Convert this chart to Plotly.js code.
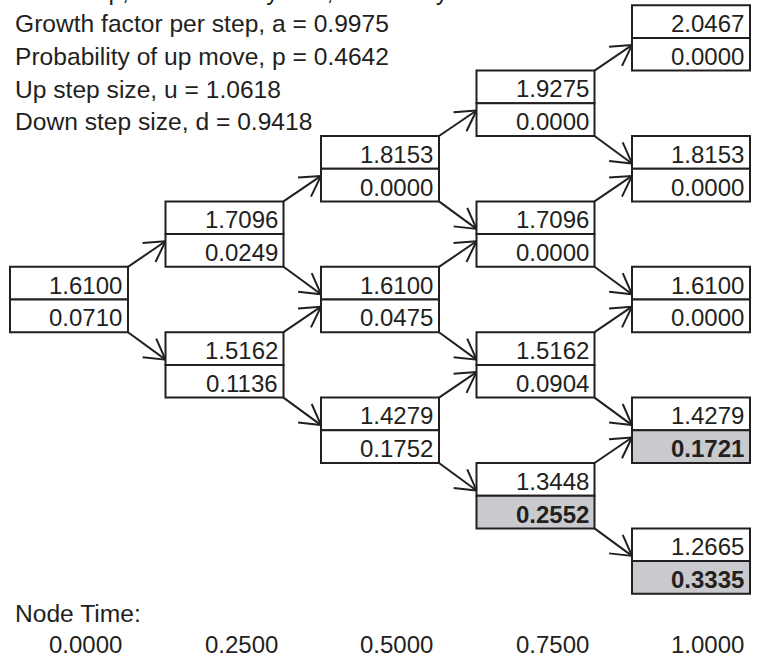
<!DOCTYPE html>
<html><head><meta charset="utf-8">
<script src="https://cdn.plot.ly/plotly-3.0.1.min.js"></script>
<style>html,body{margin:0;padding:0;background:#fff;} #chart{width:758px;height:665px;}</style>
</head><body><div id="chart"></div>
<script>
// ---- data ----
const nodeTimes = [0, 0.25, 0.5, 0.75, 1.0];
const timeLabels = ['0.0000', '0.2500', '0.5000', '0.7500', '1.0000'];
const nodeStep = [0, 1, 1, 2, 2, 2, 3, 3, 3, 3, 4, 4, 4, 4, 4];
const nodeUps  = [0, 1, 0, 2, 1, 0, 3, 2, 1, 0, 4, 3, 2, 1, 0];
const assetPrice  = [1.6100, 1.7096, 1.5162, 1.8153, 1.6100, 1.4279, 1.9275, 1.7096, 1.5162, 1.3448, 2.0467, 1.8153, 1.6100, 1.4279, 1.2665];
const optionValue = [0.0710, 0.0249, 0.1136, 0.0000, 0.0475, 0.1752, 0.0000, 0.0000, 0.0904, 0.2552, 0.0000, 0.0000, 0.0000, 0.1721, 0.3335];
const exercised   = [false, false, false, false, false, false, false, false, false, true, false, false, false, true, true];
const paramLines = [
  'Time step, dt = 0.2500 years, 91.25 days',
  'Growth factor per step, a = 0.9975',
  'Probability of up move, p = 0.4642',
  'Up step size, u = 1.0618',
  'Down step size, d = 0.9418'
];
const nodeTimeTitle = 'Node Time:';

// ---- layout geometry ----
const W = 758, H = 665;
const x0px = 69, spanPx = 622;      // pixel of t=0 and pixels per unit time
const y0px = 299.5, levelPx = 65.4; // pixel of level 0 and pixels per level
const halfW = 59 / spanPx;          // half box width in time units
const INK = '#231f20';
const GREY = '#c9cacd';
const FONT = 'Liberation Sans, Arial, Helvetica, sans-serif';
const FS = 24;
const FS_PARAM = 24.6;
const BASE_K = 8.3; // baseline minus annotation center (px)
const HEAD_LEN = 23, HEAD_ANG = 30 * Math.PI / 180;

function paperY(px) { return 1 - px / H; }
function paperX(px) { return px / W; }
function levelOf(i) { return 2 * nodeUps[i] - nodeStep[i]; }
function findNode(step, ups) {
  for (let k = 0; k < nodeStep.length; k++) if (nodeStep[k] === step && nodeUps[k] === ups) return k;
  return -1;
}
function toPx(t, lev) { return [x0px + spanPx * t, y0px - levelPx * lev]; }
function toData(p) { return [(p[0] - x0px) / spanPx, (y0px - p[1]) / levelPx]; }

const shapes = [];
const annotations = [];

for (let i = 0; i < nodeStep.length; i++) {
  const t = nodeTimes[nodeStep[i]];
  const lev = levelOf(i);
  shapes.push({type: 'rect', xref: 'x', yref: 'y', x0: t - halfW, x1: t + halfW, y0: lev, y1: lev + 0.5,
    fillcolor: '#ffffff', line: {color: INK, width: 2}, layer: 'above'});
  shapes.push({type: 'rect', xref: 'x', yref: 'y', x0: t - halfW, x1: t + halfW, y0: lev - 0.5, y1: lev,
    fillcolor: exercised[i] ? GREY : '#ffffff', line: {color: INK, width: 2}, layer: 'above'});
  annotations.push({xref: 'x', yref: 'y', x: t + halfW, y: lev + 0.25, xanchor: 'right', yanchor: 'middle',
    xshift: -4, yshift: -2, showarrow: false, text: assetPrice[i].toFixed(4),
    font: {family: FONT, size: FS, color: INK}});
  const ov = optionValue[i].toFixed(4);
  annotations.push({xref: 'x', yref: 'y', x: t + halfW, y: lev - 0.25, xanchor: 'right', yanchor: 'middle',
    xshift: -4, yshift: -2, showarrow: false, text: exercised[i] ? '<b>' + ov + '</b>' : ov,
    font: {family: FONT, size: FS, color: INK}});
}

// arrows between nodes: shaft + open V head as line segments
const arrowX = [], arrowY = [];
function addArrow(tailT, tailLev, tipT, tipLev) {
  const a = toPx(tailT, tailLev), b = toPx(tipT, tipLev);
  const dx = a[0] - b[0], dy = a[1] - b[1];
  const len = Math.hypot(dx, dy);
  const ux = dx / len, uy = dy / len;
  const arm = s => {
    const c = Math.cos(s * HEAD_ANG), sn = Math.sin(s * HEAD_ANG);
    return [b[0] + HEAD_LEN * (ux * c - uy * sn), b[1] + HEAD_LEN * (ux * sn + uy * c)];
  };
  const pts = [a, b, null, arm(1), b, arm(-1), null];
  pts.forEach(p => {
    if (p === null) { arrowX.push(null); arrowY.push(null); }
    else { const d = toData(p); arrowX.push(d[0]); arrowY.push(d[1]); }
  });
}
for (let i = 0; i < nodeStep.length; i++) {
  const s = nodeStep[i];
  if (s >= nodeTimes.length - 1) continue;
  const t = nodeTimes[s], tn = nodeTimes[s + 1];
  const lev = levelOf(i);
  const up = findNode(s + 1, nodeUps[i] + 1);
  const dn = findNode(s + 1, nodeUps[i]);
  if (up >= 0) addArrow(t + halfW, lev + 0.5, tn - halfW, levelOf(up) - 0.11);
  if (dn >= 0) addArrow(t + halfW, lev - 0.5, tn - halfW, levelOf(dn) + 0.08);
}

// parameter text lines (baselines in px)
const paramBase = [-0.6, 32.2, 64.8, 97.4, 130.0];
paramLines.forEach((txt, k) => {
  annotations.push({xref: 'paper', yref: 'paper', x: paperX(13), y: paperY(paramBase[k] - BASE_K),
    xanchor: 'left', yanchor: 'middle', showarrow: false, text: txt,
    font: {family: FONT, size: FS_PARAM, color: INK}});
});

// node time row
annotations.push({xref: 'paper', yref: 'paper', x: paperX(13), y: paperY(622 - BASE_K),
  xanchor: 'left', yanchor: 'middle', showarrow: false, text: nodeTimeTitle,
  font: {family: FONT, size: FS_PARAM, color: INK}});
nodeTimes.forEach((t, k) => {
  annotations.push({xref: 'x', yref: 'paper', x: t + halfW, y: paperY(653 - BASE_K),
    xanchor: 'right', yanchor: 'middle', xshift: -4, showarrow: false, text: timeLabels[k],
    font: {family: FONT, size: FS, color: INK}});
});

const nodeTrace = {
  type: 'scatter', mode: 'markers',
  x: nodeStep.map(s => nodeTimes[s]),
  y: nodeStep.map((s, i) => levelOf(i)),
  marker: {opacity: 0, size: 1}, hoverinfo: 'skip', showlegend: false
};
const arrowTrace = {
  type: 'scatter', mode: 'lines', x: arrowX, y: arrowY, connectgaps: false,
  line: {color: INK, width: 2}, hoverinfo: 'skip', showlegend: false, cliponaxis: false
};

const layout = {
  width: W, height: H,
  margin: {l: 0, r: 0, t: 0, b: 0, pad: 0},
  paper_bgcolor: '#ffffff', plot_bgcolor: '#ffffff',
  showlegend: false,
  xaxis: {range: [-x0px / spanPx, (W - x0px) / spanPx], visible: false, fixedrange: true},
  yaxis: {range: [-(H - y0px) / levelPx, y0px / levelPx], visible: false, fixedrange: true},
  shapes: shapes,
  annotations: annotations
};

Plotly.newPlot('chart', [nodeTrace, arrowTrace], layout, {displayModeBar: false, staticPlot: true});
</script>
</body></html>
